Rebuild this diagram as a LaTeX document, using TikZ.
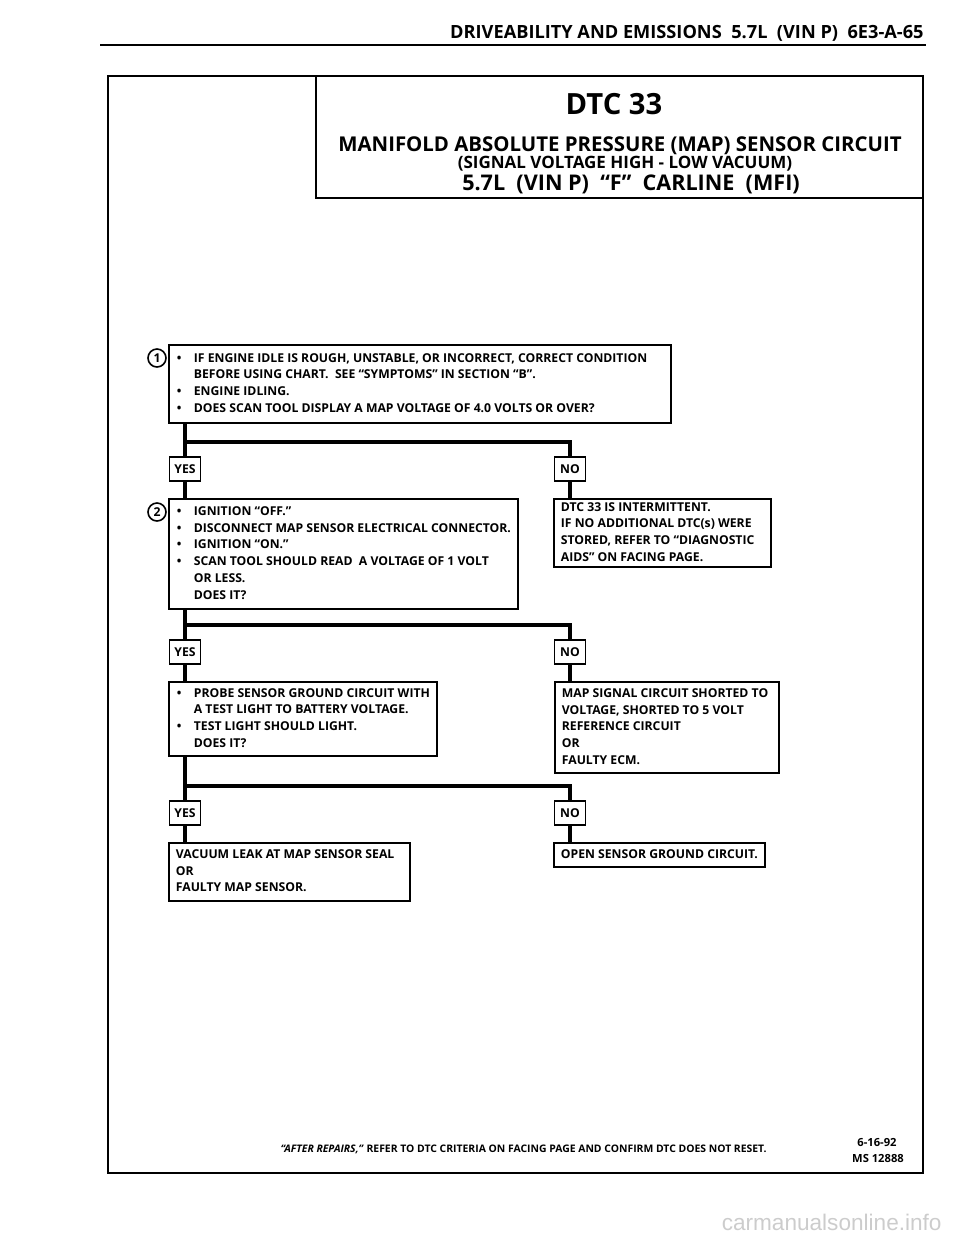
\documentclass[tikz,border=0pt]{standalone}
\usepackage{fontspec}
\setmainfont{Open Sans}
\newfontfamily\wmfont{Liberation Sans}
\usetikzlibrary{positioning, calc}
\newcommand{\bl}{\makebox[8.5pt][l]{\textbullet}}
\newcommand{\ind}{\hspace*{8.5pt}}
\newcommand{\boxlines}[2]{\makebox[#1][l]{\begin{tabular}{@{}l@{}}#2\end{tabular}}}

\begin{document}
\begin{tikzpicture}[x=0.5pt, y=-0.5pt,
    every node/.style={font=\bfseries\fontsize{6.1}{8.35}\selectfont, inner sep=0pt},
    box/.style={draw, line width=0.9pt, anchor=north west, inner ysep=0pt},
    bbox/.style={box, inner xsep=4pt},
    pbox/.style={box, inner xsep=3.5pt},
    tag/.style={draw, line width=0.9pt, minimum width=15.5pt, minimum height=12pt, anchor=north},
    numcirc/.style={draw, circle, line width=0.8pt, minimum size=9pt},
    flow/.style={line width=1.7pt}]
    \useasboundingbox (0,0) rectangle (960,1250);

    % Page header
    \node[anchor=base east, font=\bfseries\fontsize{9.1}{10}\selectfont] (head) at (924,38)
        {DRIVEABILITY AND EMISSIONS\ \ 5.7L\ \ (VIN P)\ \ 6E3-A-65};
    \draw[line width=1.1pt] (100,45) -- (926,45);

    % Frame and title
    \draw[line width=1.2pt] (108,76) rectangle (923,1173);
    \draw[line width=1.2pt] (316,76) rectangle (923,198);
    \node[anchor=base, font=\bfseries\fontsize{14.6}{16}\selectfont] (dtc) at (614,114) {DTC 33};
    \node[anchor=base, font=\bfseries\fontsize{10.2}{12}\selectfont] (ttl) at (620,151)
        {MANIFOLD ABSOLUTE PRESSURE (MAP) SENSOR CIRCUIT};
    \node[anchor=base, font=\bfseries\fontsize{8.5}{10}\selectfont] (sig) at (625,168)
        {(SIGNAL VOLTAGE HIGH - LOW VACUUM)};
    \node[anchor=base, font=\bfseries\fontsize{10.8}{12}\selectfont] (car) at (631,190)
        {5.7L\ \ (VIN P)\ \ “F”\ \ CARLINE\ \ (MFI)};

    % Step 1
    \node[bbox, minimum height=39pt] (q1) at (168,344)
        {\boxlines{243pt}{\bl IF ENGINE IDLE IS ROUGH, UNSTABLE, OR INCORRECT, CORRECT CONDITION\\
         \ind BEFORE USING CHART.\ \ SEE “SYMPTOMS” IN SECTION “B”.\\
         \bl ENGINE IDLING.\\
         \bl DOES SCAN TOOL DISPLAY A MAP VOLTAGE OF 4.0 VOLTS OR OVER?}};
    \node[numcirc] (c1) at (157,358) {1};
    \node[tag] (yes1) at (185,456) {YES};
    \node[tag] (no1) at (570,456) {NO};
    \coordinate (b1) at (185,442);

    % Step 2
    \node[bbox, minimum height=55pt] (q2) at (168,498)
        {\boxlines{166.5pt}{\bl IGNITION “OFF.”\\
         \bl DISCONNECT MAP SENSOR ELECTRICAL CONNECTOR.\\
         \bl IGNITION “ON.”\\
         \bl SCAN TOOL SHOULD READ\ \ A VOLTAGE OF 1 VOLT\\
         \ind OR LESS.\\
         \ind DOES IT?}};
    \node[numcirc] (c2) at (157,512) {2};
    \node[pbox, minimum height=34pt] (inter) at (553,498)
        {\boxlines{101.5pt}{DTC 33 IS INTERMITTENT.\\
         IF NO ADDITIONAL DTC(s) WERE\\
         STORED, REFER TO “DIAGNOSTIC\\
         AIDS” ON FACING PAGE.}};
    \node[tag] (yes2) at (185,639) {YES};
    \node[tag] (no2) at (570,639) {NO};
    \coordinate (b2) at (185,625);

    % Step 3
    \node[bbox, minimum height=37pt] (q3) at (168,681)
        {\boxlines{126pt}{\bl PROBE SENSOR GROUND CIRCUIT WITH\\
         \ind A TEST LIGHT TO BATTERY VOLTAGE.\\
         \bl TEST LIGHT SHOULD LIGHT.\\
         \ind DOES IT?}};
    \node[pbox, minimum height=45.5pt] (short) at (554,681)
        {\boxlines{105pt}{MAP SIGNAL CIRCUIT SHORTED TO\\
         VOLTAGE, SHORTED TO 5 VOLT\\
         REFERENCE CIRCUIT\\
         OR\\
         FAULTY ECM.}};
    \node[tag] (yes3) at (185,800) {YES};
    \node[tag] (no3) at (570,800) {NO};
    \coordinate (b3) at (185,786);

    % Results
    \node[pbox, minimum height=29pt] (leak) at (168,842)
        {\boxlines{113.5pt}{VACUUM LEAK AT MAP SENSOR SEAL\\
         OR\\
         FAULTY MAP SENSOR.}};
    \node[pbox, minimum height=12pt] (open) at (553,842)
        {\boxlines{98.5pt}{OPEN SENSOR GROUND CIRCUIT.}};

    % Flow lines
    \draw[flow] (q1.south -| yes1.north) -- (yes1.north);
    \draw[flow] (b1) -| (no1.north);
    \draw[flow] (yes1.south) -- (q2.north -| yes1.south);
    \draw[flow] (no1.south) -- (inter.north -| no1.south);
    \draw[flow] (q2.south -| yes2.north) -- (yes2.north);
    \draw[flow] (b2) -| (no2.north);
    \draw[flow] (yes2.south) -- (q3.north -| yes2.south);
    \draw[flow] (no2.south) -- (short.north -| no2.south);
    \draw[flow] (q3.south -| yes3.north) -- (yes3.north);
    \draw[flow] (b3) -| (no3.north);
    \draw[flow] (yes3.south) -- (leak.north -| yes3.south);
    \draw[flow] (no3.south) -- (open.north -| no3.south);

    % Footer
    \node[anchor=base east, font=\bfseries\fontsize{5.2}{6}\selectfont] (foot) at (767,1152)
        {\textit{“AFTER REPAIRS,”} REFER TO DTC CRITERIA ON FACING PAGE AND CONFIRM DTC DOES NOT RESET.};
    \node[anchor=base, font=\bfseries\fontsize{5.6}{6}\selectfont] (date) at (877,1146) {6-16-92};
    \node[anchor=base, font=\bfseries\fontsize{5.6}{6}\selectfont] (ms) at (878,1162) {MS 12888};
    \node[anchor=base east, font=\wmfont\fontsize{11.3}{13}\selectfont, text=black!20] (wm) at (942,1230)
        {carmanualsonline.info};
\end{tikzpicture}
\end{document}
